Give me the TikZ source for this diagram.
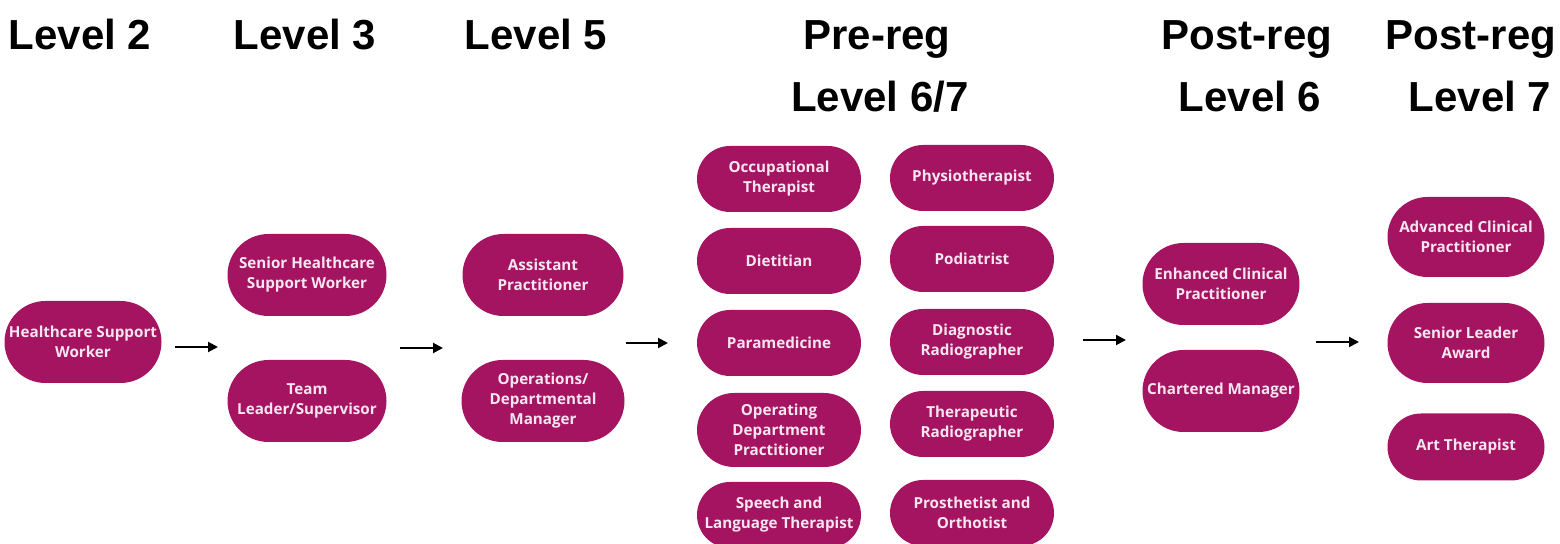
\documentclass[tikz,border=0pt]{standalone}
\usepackage{fontspec}
\setmainfont{Liberation Sans}
\newfontfamily\pillfont{Open Sans}
\usetikzlibrary{shapes.misc,arrows.meta}
\definecolor{plum}{HTML}{A51461}
\definecolor{pilltext}{HTML}{F7E6EF}
\tikzset{
  pill/.style={rounded rectangle, fill=plum, text=pilltext, minimum width=78.5pt,
    minimum height=41pt, inner sep=0pt, align=center,
    font=\pillfont\bfseries\fontsize{7.6}{10}\selectfont},
  colpill/.style={pill, minimum width=82pt, minimum height=33pt},
  lvl/.style={anchor=base, font=\bfseries\fontsize{21}{24}\selectfont},
  nextarrow/.style={-{Triangle[length=5pt,width=5pt]}, line width=1pt}
}
\begin{document}
\begin{tikzpicture}[x=0.5pt,y=-0.5pt]
\useasboundingbox (0,0) rectangle (1560,544);

% headings
\node[lvl] (h2) at (80,50) {Level 2};
\node[lvl] (h3) at (305,50) {Level 3};
\node[lvl] (h5) at (536,50) {Level 5};
\node[lvl] (hpre) at (877,50) {Pre-reg};
\node[lvl] (hpre7) at (880,112) {Level 6/7};
\node[lvl] (hpost6) at (1247,50) {Post-reg};
\node[lvl] (hl6) at (1250,112) {Level 6};
\node[lvl] (hpost7) at (1471,50) {Post-reg};
\node[lvl] (hl7) at (1480,112) {Level 7};

% level 2, 3, 5
\node[pill] (hsw) at (83,342) {Healthcare Support\\Worker};
\node[pill, minimum width=79.5pt] (shsw) at (307,275) {Senior Healthcare\\Support Worker};
\node[pill, minimum width=79.5pt] (tl) at (307,401) {Team\\Leader/Supervisor};
\node[pill, minimum width=80.5pt] (ap) at (543,275) {Assistant\\Practitioner};
\node[pill, minimum width=81.5pt] (odm) at (543,401) {Operations/\\Departmental\\Manager};

% pre-reg, two columns
\node[colpill] (ot) at (779,179) {Occupational\\Therapist};
\node[colpill] (diet) at (779,261) {Dietitian};
\node[colpill] (para) at (779,343) {Paramedicine};
\node[colpill, minimum height=37pt] (odp) at (779,430) {Operating\\Department\\Practitioner};
\node[colpill] (slt) at (779,515) {Speech and\\Language Therapist};
\node[colpill] (physio) at (972,178) {Physiotherapist};
\node[colpill] (pod) at (972,259) {Podiatrist};
\node[colpill] (drad) at (972,342) {Diagnostic\\Radiographer};
\node[colpill] (trad) at (972,424) {Therapeutic\\Radiographer};
\node[colpill] (po) at (972,513) {Prosthetist and\\Orthotist};

% post-reg
\node[pill] (ecp) at (1221,284) {Enhanced Clinical\\Practitioner};
\node[pill] (cm) at (1221,391) {Chartered Manager};
\node[pill, minimum height=40pt] (acp) at (1466,237) {Advanced Clinical\\Practitioner};
\node[pill, minimum height=40pt] (sla) at (1466,343) {Senior Leader\\Award};
\node[pill, minimum height=33.5pt] (art) at (1466,447) {Art Therapist};

% arrows between the levels
\coordinate (a1) at (175,347); \coordinate (b1) at (218,347);
\coordinate (a2) at (400,348); \coordinate (b2) at (443,348);
\coordinate (a3) at (626,343); \coordinate (b3) at (668,343);
\coordinate (a4) at (1083,340); \coordinate (b4) at (1126,340);
\coordinate (a5) at (1316,342); \coordinate (b5) at (1359,342);
\foreach \i in {1,...,5}{
	\draw[nextarrow] (a\i) -- (b\i);
	}
\end{tikzpicture}
\end{document}
